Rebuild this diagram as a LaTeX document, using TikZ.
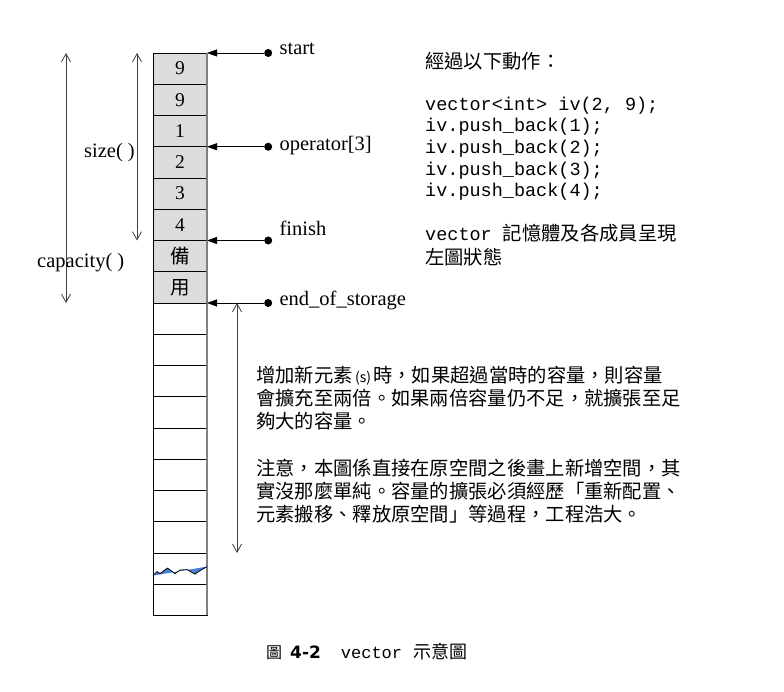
\documentclass[tikz,border=0pt]{standalone}
\usepackage{fontspec}
\setmainfont{Liberation Serif}
\setmonofont{Liberation Mono}
\newfontfamily\cjk{Noto Sans CJK TC}
\newfontfamily\capbold{DejaVu Sans}
\usetikzlibrary{arrows.meta,positioning}
\definecolor{used}{HTML}{DCDCDC}
\definecolor{edge}{HTML}{808080}
\definecolor{wave}{HTML}{4A80DC}
\definecolor{dimc}{HTML}{404040}
\newcommand{\zh}[1]{{\cjk #1}}
\tikzset{
  cell/.style={draw,line width=0.8pt,minimum width=54pt,minimum height=31.25pt,inner sep=0pt,outer sep=0pt,font=\fontsize{19.5}{22}\selectfont},
  ucell/.style={cell,fill=used},
  dot/.style={circle,fill,inner sep=0pt,minimum size=8pt},
  ptr/.style={-{Triangle[length=10pt,width=7pt]},line width=0.8pt},
  dim/.style={{Straight Barb[length=8pt,width=9pt]}-{Straight Barb[length=8pt,width=9pt]},line width=0.8pt,draw=dimc},
  lbl/.style={font=\fontsize{20.5}{22}\selectfont,inner sep=0pt,anchor=base west},
  txt/.style={align=left,inner sep=0pt,anchor=base west,font=\fontsize{19.3}{23.5}\selectfont},
  code/.style={txt,font=\fontsize{18.5}{21.67}\selectfont\ttfamily},
  para/.style={txt,font=\cjk\fontsize{19.3}{23}\selectfont},
}
\begin{document}
\begin{tikzpicture}[x=1pt,y=-1pt,node distance=0pt]
\useasboundingbox (0,0) rectangle (784,691);
% the storage, used part first
\node[ucell] (c1) at (180,68.6) {9};
\foreach \i/\v [remember=\i as \j (initially 1)] in {2/9,3/1,4/2,5/3,6/4,7/\zh{備},8/\zh{用}}
  \node[ucell,below=of c\j] (c\i) {\v};
\foreach \i [remember=\i as \j (initially 8)] in {9,...,18}
  \node[cell,below=of c\j] (c\i) {};
\draw[edge,line width=1.6pt] (c1.north east) -- (c18.south east);
% torn edge
\begin{scope}[shift={(c17.center)}]
\fill[wave] (-27,7) -- (-23,3) -- (-20,5) -- (-12.5,-0.5) -- (-5,5) -- (0,1.5) -- (7,1) -- (15,5.5) -- (20,2) -- (27,-2) -- cycle;
\draw[line width=0.8pt] (-27,7) -- (-23,3) -- (-20,5) -- (-12.5,-0.5) -- (-5,5) -- (0,1.5) -- (7,1) -- (15,5.5) -- (20,2) -- (27,-2);
\end{scope}
% iterators
\node[dot,right=57pt of c1.north east] (dS) {};
\node[dot,right=57pt of c3.south east] (dO) {};
\node[dot,right=57pt of c6.south east] (dF) {};
\node[dot,right=57pt of c8.south east] (dE) {};
\draw[ptr] (dS) -- (c1.north east);
\draw[ptr] (dO) -- (c3.south east);
\draw[ptr] (dF) -- (c6.south east);
\draw[ptr] (dE) -- (c8.south east);
\node[lbl] (lS) at ([xshift=7pt,yshift=-2pt]dS.east) {start};
\node[lbl] (lO) at ([xshift=7pt,yshift=-4pt]dO.east) {operator[3]};
\node[lbl] (lF) at ([xshift=7pt,yshift=5pt]dF.east) {finish};
\node[lbl] (lE) at ([xshift=7pt,yshift=-3pt]dE.east) {end\_of\_storage};
% size and capacity
\coordinate[left=16pt of c1.north west] (szT);
\coordinate[left=87pt of c1.north west] (cpT);
\coordinate[right=30pt of c8.south east] (grT);
\draw[dim] (szT) -- (szT |- c6.south);
\draw[dim] (cpT) -- (cpT |- c8.south);
\draw[dim] (grT) -- (grT |- c16.south);
\node[lbl,anchor=base east] (sz) at (135,157) {size( )};
\node[lbl,anchor=base west] (cp) at (37,267) {capacity( )};
% notes (base = last line)
\node[txt,font=\cjk\fontsize{19.3}{23}\selectfont] (head) at (425,68) {經過以下動作：};
\node[code] (ops) at (425,196.7) {vector<int> iv(2, 9);\\iv.push\_back(1);\\iv.push\_back(2);\\iv.push\_back(3);\\iv.push\_back(4);};
\node[txt] (state) at (425,264) {{\fontsize{18.5}{23.5}\selectfont\ttfamily vector }\zh{記憶體及各成員呈現}\\\zh{左圖狀態}};
\node[para] (grow) at (256,428) {增加新元素{\fontsize{14}{14}\selectfont\,(s)\,}時，如果超過當時的容量，則容量\\會擴充至兩倍。如果兩倍容量仍不足，就擴張至足\\夠大的容量。};
\node[para] (warn) at (256,521) {注意，本圖係直接在原空間之後畫上新增空間，其\\實沒那麼單純。容量的擴張必須經歷「重新配置、\\元素搬移、釋放原空間」等過程，工程浩大。};
% caption
\node[txt] (cap) at (266,658) {\zh{\fontsize{16}{16}\selectfont 圖}\hspace{8pt}{\capbold\bfseries\fontsize{17}{17}\selectfont 4-2}\hspace{20pt}{\fontsize{17}{17}\selectfont\ttfamily vector}\hspace{11pt}\zh{\fontsize{18}{18}\selectfont 示意圖}};
\end{tikzpicture}
\end{document}
